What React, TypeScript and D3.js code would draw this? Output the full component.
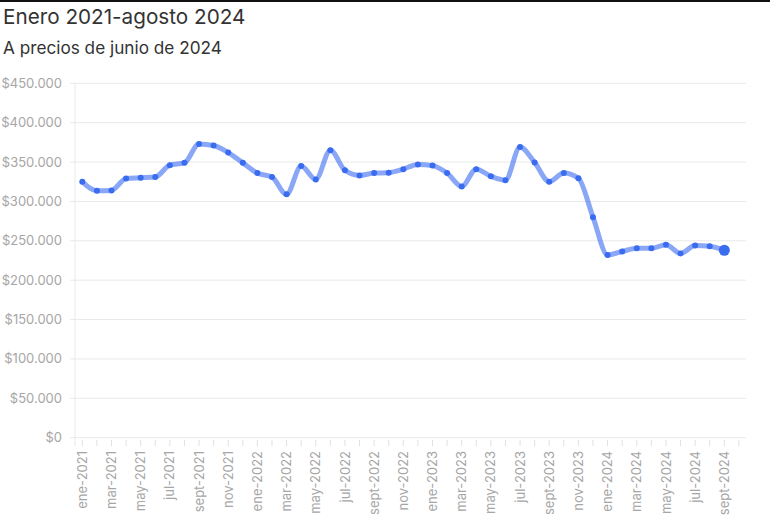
import React, { useEffect } from "react";
import * as d3 from "d3";

const MONTHS = ["ene", "feb", "mar", "abr", "may", "jun", "jul", "ago", "sept", "oct", "nov", "dic"];
const YEARS = [2021, 2022, 2023, 2024];
const categories: string[] = YEARS.flatMap((y) => MONTHS.map((m) => `${m}-${y}`)).slice(0, 45);

const values: number[] = [
  325000, 313500, 314000, 329000, 330000, 331000, 346000, 349000, 373000, 371000, 362000, 349000,
  336000, 331000, 309000, 345000, 328000, 365000, 339500, 333000, 336000, 336500, 341000, 347000,
  345500, 336000, 319000, 341000, 332000, 327000, 369000, 349500, 325000, 336000, 329500, 280000,
  232000, 236500, 240500, 240500, 245000, 234000, 244000, 243000, 238000,
];

const yTicks: number[] = [0, 50000, 100000, 150000, 200000, 250000, 300000, 350000, 400000, 450000];

const W = 770;
const H = 528;

export default function App() {
  useEffect(() => {
    document.body.style.margin = "0";
  }, []);

  const x = d3.scaleLinear().domain([0, 45]).range([82.3, 738.9]);
  const y = d3.scaleLinear().domain([0, 450000]).range([437.7, 83.3]);
  const locale = d3.formatLocale({ decimal: ",", thousands: ".", grouping: [3], currency: ["$", ""] });
  const fmt = locale.format("$,.0f");

  const line = d3
    .line<number>()
    .x((_, i) => x(i))
    .y((d) => y(d))
    .curve(d3.curveMonotoneX);

  const tickIdx = d3.range(0, 46);
  const font = "Inter, Roboto, sans-serif";
  const blue = "#3a6cf0";

  return (
    <svg width={W} height={H} style={{ display: "block", fontFamily: font }}>
      <rect x={0} y={0} width={W} height={H} fill="#fff" />
      <line x1={0} x2={W} y1={1} y2={1} stroke="#111" strokeWidth={2} />
      <text x={3} y={24} fontSize={20.7} fill="#333">Enero 2021-agosto 2024</text>
      <text x={3} y={54} fontSize={17.2} fill="#333">A precios de junio de 2024</text>

      {yTicks.map((t) => (
        <g key={t}>
          <line x1={70} x2={746} y1={y(t)} y2={y(t)} stroke="#e9e9e9" strokeWidth={1} />
          <text x={62} y={y(t)} dy="0.35em" textAnchor="end" fontSize={13} fill="#a6a6a6">
            {fmt(t)}
          </text>
        </g>
      ))}
      <line x1={75} x2={75} y1={y(450000)} y2={446} stroke="#e9e9e9" strokeWidth={1} />

      {tickIdx.map((i) => (
        <line key={i} x1={x(i)} x2={x(i)} y1={440} y2={446} stroke="#e0e0e0" strokeWidth={1} />
      ))}
      {categories.map((c, i) =>
        i % 2 === 0 ? (
          <text
            key={c}
            transform={`translate(${x(i)},451) rotate(-90)`}
            textAnchor="end"
            dy="0.35em"
            fontSize={13}
            fill="#a6a6a6"
          >
            {c}
          </text>
        ) : null
      )}

      <path d={line(values) || ""} fill="none" stroke={blue} strokeOpacity={0.6} strokeWidth={5} strokeLinejoin="round" strokeLinecap="round" />
      {values.map((v, i) => (
        <circle key={i} cx={x(i)} cy={y(v)} r={i === values.length - 1 ? 5.5 : 3} fill={blue} />
      ))}
    </svg>
  );
}
